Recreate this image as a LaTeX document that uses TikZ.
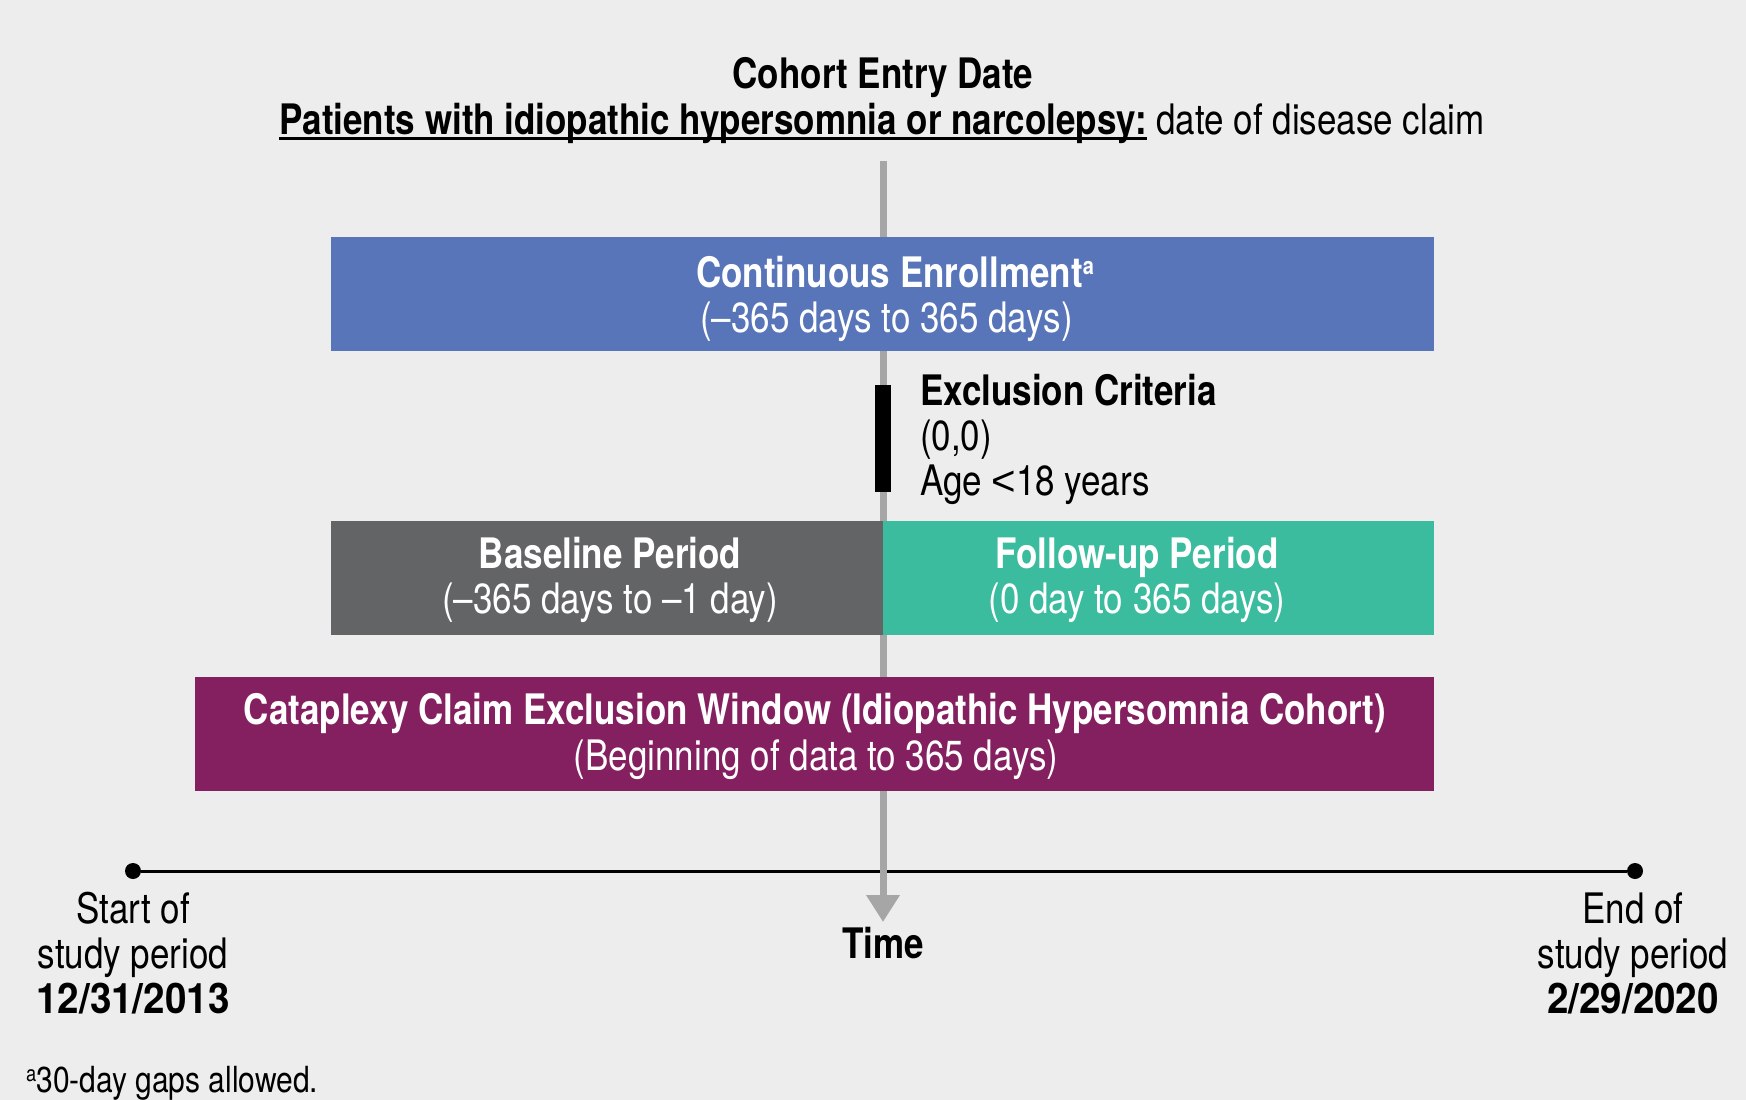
\documentclass[tikz,border=0pt]{standalone}
\usepackage{fontspec}
\setmainfont{TeX Gyre Heros}[FakeStretch=0.833]
\newfontfamily\ltfont{Liberation Sans}
\usetikzlibrary{arrows.meta}
\definecolor{bgc}{HTML}{EDEDED}
\definecolor{blueC}{HTML}{5775B8}
\definecolor{grayC}{HTML}{636466}
\definecolor{tealC}{HTML}{3BBC9E}
\definecolor{purpC}{HTML}{852060}
\definecolor{axisC}{HTML}{A6A6A6}
\newcommand{\fs}{\fontsize{42}{46}\selectfont}
\newcommand{\fnfs}{\fontsize{36}{40}\selectfont}
\newsavebox{\ulbox}
\newcommand{\myul}[1]{\sbox{\ulbox}{#1}\rlap{\rule[-6pt]{\wd\ulbox}{3pt}}\usebox{\ulbox}}
\newcommand{\supa}[2]{\raisebox{#1}{\fontsize{#2}{#2}\selectfont a}}
\newcommand{\wdig}[1]{{\addfontfeature{FakeStretch=0.92}#1}}
\tikzset{
  pbox/.style={rectangle, inner sep=0pt, outer sep=0pt, draw=none, minimum height=114pt},
  t/.style={inner sep=0pt, outer sep=0pt, anchor=base, font=\fs},
  tb/.style={inner sep=0pt, outer sep=0pt, anchor=base, font=\fs\bfseries},
  dotn/.style={circle, fill=black, inner sep=0pt, minimum size=16pt},
  axisline/.style={draw=axisC, line width=7pt, -{Triangle[width=32pt,length=27pt]}},
  tline/.style={draw=black, line width=3pt},
}
\begin{document}
\begin{tikzpicture}[x=1pt,y=-1pt]
\fill[bgc] (0,0) rectangle (1746,1100);
\useasboundingbox (0,0) rectangle (1746,1100);

% title
\node[tb] (title1) at (883,88) {Cohort Entry Date};
\node[t] (title2) at (882,134) {{\bfseries\myul{Patients with idiopathic hypersomnia or narcolepsy:}} date of disease claim};

% timeline
\node[dotn] (tstart) at (133,871) {};
\node[dotn] (tend) at (1635,871) {};
\draw[tline] (tstart) -- (tend);

% time axis
\coordinate (atop) at (883,161);
\coordinate (atip) at (883,922);
\draw[axisline] (atop) -- (atip);

% continuous enrollment
\node[pbox, fill=blueC, minimum width=1103pt] (enroll) at (882.5,294) {};
\node[tb, text=white] (enroll1) at (895,287) {Continuous Enrollment\supa{13pt}{24}};
\node[t, text=white] (enroll2) at (886.5,332) {(\textendash365 days to 365 days)};

% exclusion criteria
\node[rectangle, fill=black, inner sep=0pt, minimum width=16pt, minimum height=107pt] (bar) at (883,438.5) {};
\node[tb, anchor=base west] (excl1) at (920,405) {Exclusion Criteria};
\node[t, anchor=base west] (excl2) at (920,450) {(0,0)};
\node[t, anchor=base west] (excl3) at (920,495) {Age {\ltfont <}18 years};

% baseline / follow-up
\node[pbox, fill=grayC, minimum width=552pt] (base) at (607,578) {};
\node[tb, text=white] (base1) at (610,568) {Baseline Period};
\node[t, text=white] (base2) at (610,613) {(\textendash365 days to \textendash1 day)};
\node[pbox, fill=tealC, minimum width=551pt] (fu) at (1158.5,578) {};
\node[tb, text=white] (fu1) at (1137,568) {Follow-up Period};
\node[t, text=white] (fu2) at (1137,613) {(0 day to 365 days)};

% cataplexy
\node[pbox, fill=purpC, minimum width=1239pt] (cat) at (814.5,734) {};
\node[tb, text=white] (cat1) at (815,724) {Cataplexy Claim Exclusion Window (Idiopathic Hypersomnia Cohort)};
\node[t, text=white] (cat2) at (816,770) {(Beginning of data to 365 days)};

% time label
\node[tb] (timel) at (883,958) {Time};

% start / end labels
\node[t] (start1) at (133,923) {Start of};
\node[t] (start2) at (133,968) {study period};
\node[tb] (start3) at (133,1013) {\wdig{12/31/2013}};
\node[t] (end1) at (1633,923) {End of};
\node[t] (end2) at (1633,968) {study period};
\node[tb] (end3) at (1633,1013) {\wdig{2/29/2020}};

% footnote
\node[inner sep=0pt, anchor=base west, font=\fnfs] (foot) at (26,1092) {\supa{11pt}{22}30-day gaps allowed.};
\end{tikzpicture}
\end{document}
